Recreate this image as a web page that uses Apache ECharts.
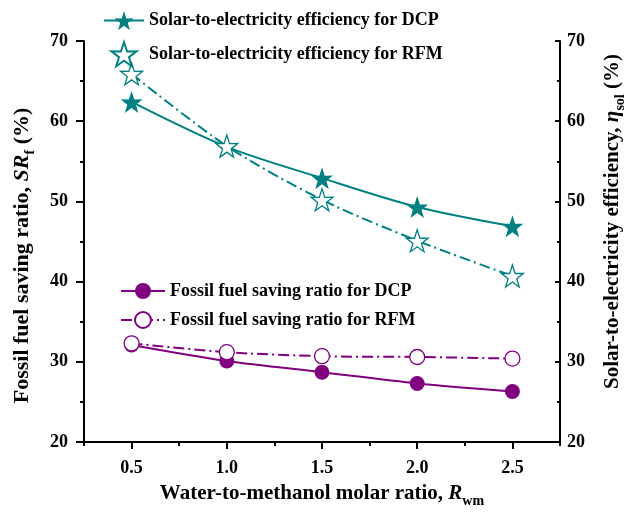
<!DOCTYPE html>
<html><head><meta charset="utf-8">
<script src="https://cdn.jsdelivr.net/npm/echarts@6/dist/echarts.min.js"></script>
<style>html,body{margin:0;padding:0;background:#fff}#c{width:625px;height:512px}</style>
</head><body><div id="c"></div>
<script>
const ratios = [0.5, 1.0, 1.5, 2.0, 2.5];
const solarDCP = [62.4, 56.8, 52.9, 49.3, 46.9];
const solarRFM = [65.9, 56.9, 50.2, 45.1, 40.7];
const fossilDCP = [32.1, 30.1, 28.7, 27.3, 26.3];
const fossilRFM = [32.3, 31.2, 30.7, 30.6, 30.4];
const xMajorTicks = [0.5, 1.0, 1.5, 2.0, 2.5];
const xMinorTicks = [0.25, 0.75, 1.25, 1.75, 2.25, 2.75];
const names = {
  sDCP: 'Solar-to-electricity efficiency for DCP',
  sRFM: 'Solar-to-electricity efficiency for RFM',
  fDCP: 'Fossil fuel saving ratio for DCP',
  fRFM: 'Fossil fuel saving ratio for RFM'
};

const TEAL = '#008080', PURPLE = '#800080';
const FONT = 'Liberation Serif';
const STAR = 'path://M50,0 L61.8,35.1 L97.6,34.5 L68.8,56.7 L79.4,90.5 L50,70 L20.6,90.5 L31.2,56.7 L2.4,34.5 L38.2,35.1 Z';
const pts = (ys) => ratios.map((x, i) => [x, ys[i]]);
const dashDot = [11, 4, 2, 4];

const txt = { fontFamily: FONT, fontWeight: 'bold', fontSize: 18, color: '#000' };
function makeRich(size) {
  return {
    b: { fontFamily: FONT, fontWeight: 'bold', fontSize: size, color: '#000' },
    i: { fontFamily: FONT, fontWeight: 'bold', fontStyle: 'italic', fontSize: size, color: '#000' },
    sub: { fontFamily: FONT, fontWeight: 'bold', fontSize: Math.round(size * 0.65), color: '#000', verticalAlign: 'bottom', padding: [0, 0, -4, 0] }
  };
}
const axisLine = { show: true, lineStyle: { color: '#000', width: 2 } };

const chart = echarts.init(document.getElementById('c'), null, { renderer: 'canvas' });
chart.setOption({
  backgroundColor: '#fff',
  animation: false,
  grid: { left: 84, right: 65, top: 41, bottom: 70, containLabel: false, outerBoundsMode: 'none' },
  legend: [
    {
      orient: 'vertical', left: 98, top: 6, itemWidth: 40, itemHeight: 24, itemGap: 11,
      textStyle: txt,
      data: [{ name: names.sDCP }, { name: names.sRFM, icon: STAR }]
    },
    {
      orient: 'vertical', left: 115, top: 277, itemWidth: 44, itemHeight: 20, itemGap: 11,
      textStyle: txt,
      data: [{ name: names.fDCP }, { name: names.fRFM }]
    }
  ],
  xAxis: [
    {
      type: 'value', min: 0.25, max: 2.75, position: 'bottom',
      axisLine: axisLine,
      axisTick: { show: true, length: 7, customValues: xMajorTicks, lineStyle: { color: '#000', width: 2 } },
      axisLabel: { customValues: xMajorTicks, margin: 17, formatter: v => v.toFixed(1), ...txt },
      splitLine: { show: false },
      name: '{b|Water-to-methanol molar ratio, }{i|R}{sub|wm}',
      nameLocation: 'middle', nameGap: 41,
      nameTextStyle: { rich: makeRich(21) }
    },
    {
      type: 'value', min: 0.25, max: 2.75, position: 'bottom',
      axisLine: { show: false },
      axisTick: { show: true, length: 4, customValues: xMinorTicks, lineStyle: { color: '#000', width: 2 } },
      axisLabel: { show: false },
      splitLine: { show: false }
    }
  ],
  yAxis: [
    {
      type: 'value', min: 20, max: 70, interval: 10, position: 'left',
      axisLine: axisLine,
      axisTick: { show: true, length: 8, lineStyle: { color: '#000', width: 2 } },
      minorTick: { show: true, splitNumber: 2, length: 4, lineStyle: { color: '#000', width: 2 } },
      axisLabel: { margin: 16, ...txt },
      splitLine: { show: false },
      name: '{b|Fossil fuel saving ratio, }{i|SR}{sub|f}{b| (%)}',
      nameLocation: 'middle', nameGap: 51, nameRotate: 90,
      nameTextStyle: { rich: makeRich(22), padding: [0, 28, 0, 0] }
    },
    {
      type: 'value', min: 20, max: 70, interval: 10, position: 'right',
      axisLine: axisLine,
      axisTick: { show: true, inside: true, length: 5, lineStyle: { color: '#000', width: 2 } },
      minorTick: { show: true, splitNumber: 2, length: 3, lineStyle: { color: '#000', width: 2 } },
      axisLabel: { margin: 7, ...txt },
      splitLine: { show: false },
      name: '{b|Solar-to-electricity efficiency, }{i|η}{sub|sol}{b| (%)}',
      nameLocation: 'middle', nameGap: 42, nameRotate: 90,
      nameTextStyle: { rich: makeRich(21), padding: [0, 0, 0, 40] }
    }
  ],
  series: [
    {
      name: names.sDCP, type: 'line', xAxisIndex: 0, yAxisIndex: 1, data: pts(solarDCP),
      smooth: 0.3, symbol: STAR, symbolSize: 22,
      lineStyle: { color: TEAL, width: 2 },
      itemStyle: { color: TEAL, borderColor: TEAL, borderWidth: 0 }
    },
    {
      name: names.sRFM, type: 'line', xAxisIndex: 0, yAxisIndex: 1, data: pts(solarRFM),
      smooth: 0.3, symbol: STAR, symbolSize: 22,
      lineStyle: { color: TEAL, width: 2, type: dashDot },
      itemStyle: { color: '#fff', borderColor: TEAL, borderWidth: 1.3 }
    },
    {
      name: names.fDCP, type: 'line', xAxisIndex: 0, yAxisIndex: 0, data: pts(fossilDCP),
      smooth: 0.3, symbol: 'circle', symbolSize: 15,
      lineStyle: { color: PURPLE, width: 2 },
      itemStyle: { color: PURPLE, borderColor: PURPLE, borderWidth: 0 }
    },
    {
      name: names.fRFM, type: 'line', xAxisIndex: 0, yAxisIndex: 0, data: pts(fossilRFM),
      smooth: 0.3, symbol: 'circle', symbolSize: 15,
      lineStyle: { color: PURPLE, width: 2, type: dashDot },
      itemStyle: { color: '#fff', borderColor: PURPLE, borderWidth: 1.3 }
    }
  ]
});
</script></body></html>
